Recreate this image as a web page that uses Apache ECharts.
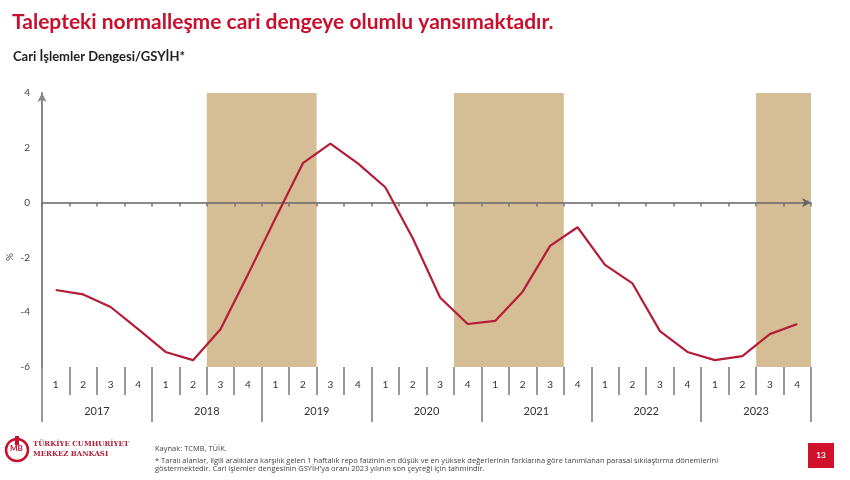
<!DOCTYPE html>
<html>
<head>
<meta charset="utf-8">
<script src="https://cdn.jsdelivr.net/npm/echarts@6/dist/echarts.min.js"></script>
<style>
  html, body { margin: 0; padding: 0; background: #fff; }
  #chart { width: 850px; height: 480px; }
</style>
</head>
<body>
<div id="chart"></div>
<script>
// çeyrek etiketleri ve yıllar
const years = ['2017', '2018', '2019', '2020', '2021', '2022', '2023'];
const quarters = years.flatMap(() => ['1', '2', '3', '4']);
// cari işlemler dengesi / GSYİH (%), 2017Q1 - 2023Q4
const balance = [
  -3.19, -3.35, -3.81, -4.62,
  -5.45, -5.75, -4.62, -2.62,
  -0.57, 1.44, 2.15, 1.43,
  0.56, -1.3, -3.47, -4.43,
  -4.32, -3.25, -1.58, -0.9,
  -2.27, -2.95, -4.69, -5.45,
  -5.75, -5.6, -4.8, -4.43
];
// parasal sıkılaştırma dönemleri (çeyrek indeksleri, başlangıç - bitiş)
const tightening = [[6, 10], [15, 19], [26, 28]];

const red = '#c8102e';
const font = 'Lato';

const chart = echarts.init(document.getElementById('chart'));

const option = {
  backgroundColor: '#fff',
  animation: false,
  textStyle: { fontFamily: font },
  title: [
    {
      text: 'Talepteki normalleşme cari dengeye olumlu yansımaktadır.',
      left: 7, top: 7,
      textStyle: { color: red, fontSize: 21, fontWeight: 'bold', fontFamily: font }
    },
    {
      text: 'Cari İşlemler Dengesi/GSYİH*',
      left: 8, top: 45,
      textStyle: { color: '#222', fontSize: 13, fontWeight: 'bold', fontFamily: font }
    }
  ],
  grid: { left: 42, right: 39, top: 93, bottom: 113, outerBoundsMode: 'none', containLabel: false },
  xAxis: [
    {
      type: 'value',
      min: 0, max: 28, interval: 1,
      z: 3,
      axisLine: {
        onZero: true,
        symbol: ['none', 'arrow'], symbolSize: [7, 9],
        lineStyle: { color: '#666', width: 1.5 }
      },
      axisTick: { show: true, length: 4, lineStyle: { color: '#777', width: 1.5 } },
      axisLabel: { show: false },
      splitLine: { show: false }
    },
    {
      type: 'category',
      data: quarters,
      position: 'bottom',
      axisLine: { show: false, onZero: false },
      axisTick: { show: true, length: 28, lineStyle: { color: '#999', width: 2 } },
      axisLabel: { margin: 13, fontSize: 10, color: '#333' }
    },
    {
      type: 'category',
      data: years,
      position: 'bottom',
      axisLine: { show: false, onZero: false },
      axisTick: { show: true, length: 55, lineStyle: { color: '#999', width: 2 } },
      axisLabel: { margin: 39, fontSize: 11, color: '#333' }
    }
  ],
  yAxis: {
    type: 'value',
    min: -6, max: 4, interval: 2,
    z: 3,
    axisLine: {
      show: true, onZero: false,
      symbol: ['none', 'arrow'], symbolSize: [7, 9],
      lineStyle: { color: '#888', width: 2 }
    },
    axisTick: { show: false },
    axisLabel: { margin: 12, fontSize: 10, color: '#444' },
    splitLine: { show: false }
  },
  series: [
    {
      type: 'custom',
      z: 1,
      silent: true,
      data: tightening,
      renderItem: function (params, api) {
        const p0 = api.coord([api.value(0), 4]);
        const p1 = api.coord([api.value(1), -6]);
        return {
          type: 'rect',
          shape: { x: p0[0], y: p0[1], width: p1[0] - p0[0], height: p1[1] - p0[1] },
          style: { fill: '#d5bd96' }
        };
      }
    },
    {
      type: 'line',
      z: 5,
      data: balance.map((v, i) => [i + 0.5, v]),
      symbol: 'none',
      lineStyle: { color: '#b51c38', width: 2.2 }
    }
  ],
  graphic: [
    // eksen birimi
    {
      type: 'text', x: 10, y: 257, rotation: Math.PI / 2,
      style: { text: '%', fill: '#444', font: '10px ' + font, align: 'center', verticalAlign: 'middle' }
    },
    // logo
    { type: 'circle', shape: { cx: 17, cy: 450, r: 11 }, style: { fill: 'none', stroke: red, lineWidth: 2.5 } },
    { type: 'text', left: 10, top: 444, style: { text: 'MB', fill: red, font: 'bold 8px ' + font } },
    { type: 'rect', shape: { x: 15, y: 436, width: 4, height: 9 }, style: { fill: red } },
    { type: 'text', left: 33, top: 441, style: { text: 'TÜRKİYE CUMHURİYET', fill: '#b0213a', font: 'bold 7px "DejaVu Serif"' } },
    { type: 'text', left: 33, top: 451, style: { text: 'MERKEZ BANKASI', fill: '#b0213a', font: 'bold 7px "DejaVu Serif"', letterSpacing: 1.5 } },
    // kaynak ve dipnot
    { type: 'text', left: 155, top: 445, style: { text: 'Kaynak: TCMB, TÜİK.', fill: '#444', font: '7.5px "Open Sans"' } },
    {
      type: 'text', left: 155, top: 457,
      style: {
        text: '* Taralı alanlar, ilgili aralıklara karşılık gelen 1 haftalık repo faizinin en düşük ve en yüksek değerlerinin farklarına göre tanımlanan parasal sıkılaştırma dönemlerini\ngöstermektedir. Cari işlemler dengesinin GSYİH\'ya oranı 2023 yılının son çeyreği için tahmindir.',
        fill: '#444', font: '7.5px "Open Sans"', lineHeight: 7.5
      }
    },
    // sayfa numarası
    { type: 'rect', shape: { x: 808, y: 443, width: 26, height: 25 }, style: { fill: '#d0112b' } },
    { type: 'text', x: 821, y: 455.5, style: { text: '13', fill: '#fff', font: 'bold 8px ' + font, align: 'center', verticalAlign: 'middle' } }
  ]
};

chart.setOption(option);
</script>
</body>
</html>
